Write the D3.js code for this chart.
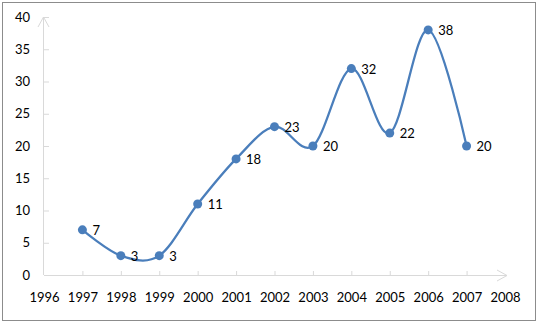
<!DOCTYPE html>
<html>
<head>
<meta charset="utf-8">
<script src="https://cdn.jsdelivr.net/npm/d3@7"></script>
<style>
body { margin: 0; background: #fff; }
text { font-family: Lato, "Open Sans", sans-serif; font-size: 13px; fill: #000; }
</style>
</head>
<body>
<div id="chart"></div>
<script>
// data
let years = [1997, 1998, 1999, 2000, 2001, 2002, 2003, 2004, 2005, 2006, 2007];
let counts = [7, 3, 3, 11, 18, 23, 20, 32, 22, 38, 20];
let xTicks = [1996, 1997, 1998, 1999, 2000, 2001, 2002, 2003, 2004, 2005, 2006, 2007, 2008];
let yTicks = [0, 5, 10, 15, 20, 25, 30, 35, 40];

let width = 538, height = 325;
let axisColor = "#d9d9d9", lineColor = "#4a7ebb";

let svg = d3.select("#chart").append("svg")
  .attr("width", width)
  .attr("height", height);

// chart frame
svg.append("rect")
  .attr("x", 2.5).attr("y", 2.5)
  .attr("width", 533).attr("height", 318)
  .attr("fill", "#fff")
  .attr("stroke", "#8c8c8c");

let xScale = d3.scaleLinear().domain([1996, 2008]).range([44, 505]);
let yScale = d3.scaleLinear().domain([0, 40]).range([275, 17]);

// axes
let x_ax = svg.append("g").attr("transform", `translate(0,${yScale(0)})`);
x_ax.call(d3.axisBottom(xScale).tickValues(xTicks).tickFormat(d3.format("d")).tickSizeInner(-4).tickSizeOuter(0).tickPadding(18));
let y_ax = svg.append("g").attr("transform", `translate(${xScale(1996)},0)`);
y_ax.call(d3.axisLeft(yScale).tickValues(yTicks).tickSizeInner(-5).tickSizeOuter(0).tickPadding(14));

svg.selectAll(".domain").remove();
svg.selectAll(".tick line").attr("stroke", axisColor);
svg.selectAll(".tick text").style("font-family", "Lato, 'Open Sans', sans-serif").style("font-size", "13px").attr("fill", "#000");
x_ax.selectAll(".tick").filter(d => d === 1996 || d === 2008).select("line").remove();
y_ax.selectAll(".tick").filter(d => d === 0).select("line").remove();

// axis lines with open arrowheads
let x0 = xScale(1996), y0 = yScale(0);
svg.append("path")
  .attr("d", `M${x0},${y0 + 0.5}H507M497,${y0 - 5}L507,${y0 + 0.5}L497,${y0 + 6}`)
  .attr("fill", "none").attr("stroke", axisColor);
svg.append("path")
  .attr("d", `M${x0 - 0.5},${y0}V17M${x0 - 6},27L${x0 - 0.5},17L${x0 + 5},27`)
  .attr("fill", "none").attr("stroke", axisColor);

// smoothed line
let pts = years.map((y, i) => [y, counts[i]]);
let line = d3.line()
  .x(d => xScale(d[0]))
  .y(d => yScale(d[1]))
  .curve(d3.curveCardinal.tension(0));

svg.append("path")
  .datum(pts)
  .attr("d", line)
  .attr("fill", "none")
  .attr("stroke", lineColor)
  .attr("stroke-width", 2.25);

svg.append("g").selectAll("circle").data(pts).enter().append("circle")
  .attr("cx", d => xScale(d[0]))
  .attr("cy", d => yScale(d[1]))
  .attr("r", 4.5)
  .attr("fill", lineColor);

svg.append("g").selectAll("text").data(pts).enter().append("text")
  .attr("x", d => xScale(d[0]) + 10)
  .attr("y", d => yScale(d[1]) + 5)
  .text(d => d[1]);
</script>
</body>
</html>
